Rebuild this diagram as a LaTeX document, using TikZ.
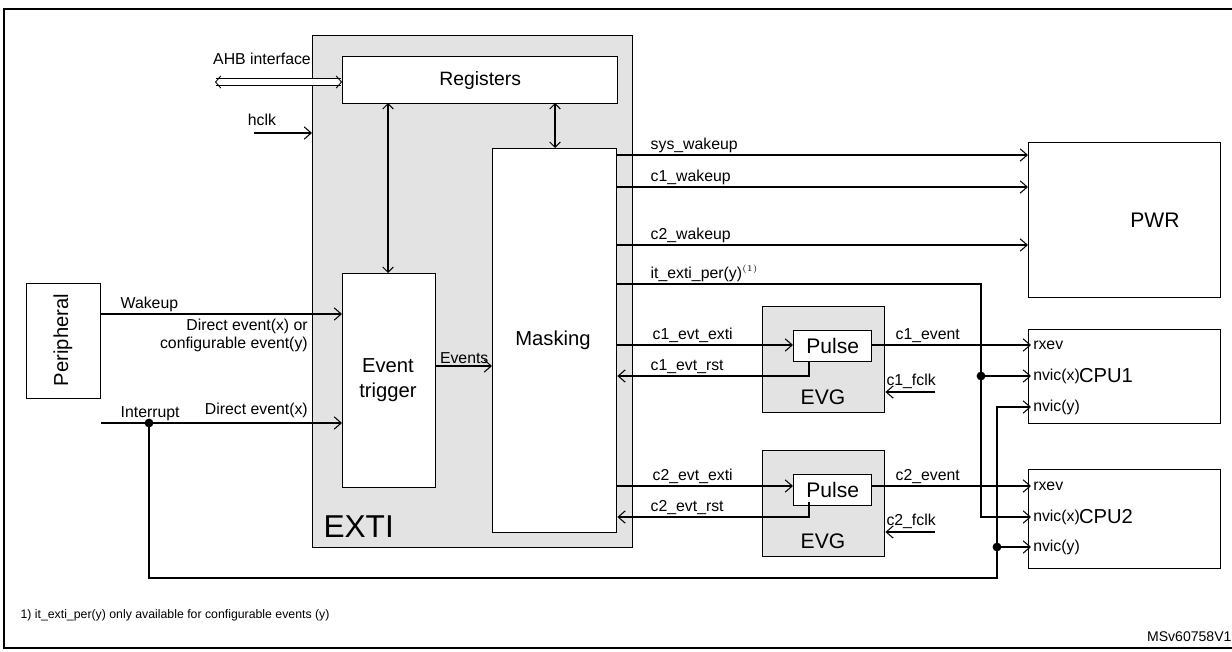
\documentclass[tikz,border=0pt]{standalone}
\usepackage{fontspec}
\setmainfont{Liberation Sans}
\usetikzlibrary{arrows.meta,positioning,calc}
\tikzset{
  blk/.style={draw, thick, fill=white},
  greyblk/.style={draw, thick, fill=gray!22},
  sig/.style={-{Straight Barb[length=4pt,width=7pt]}},
  lbl/.style={font=\fontsize{9}{10}\selectfont, inner sep=1pt},
  dot/.style={circle, fill, inner sep=0pt, minimum size=5pt},
}
\begin{document}
\begin{tikzpicture}[x=0.02cm,y=-0.02cm, line width=0.6pt]
    \useasboundingbox (0,0) rectangle (1232,652);
    %frame
    \draw[line width=1.5pt] (4,9) rectangle (1240,648);

    %nodes
    \node[greyblk, minimum width=320*0.02cm, minimum height=512*0.02cm, anchor=north west] (exti) at (312,35) {};
    \node[anchor=base west, inner sep=0pt, font=\fontsize{18}{19}\selectfont] (extilbl) at (323,537) {EXTI};
    \node[blk, minimum width=275*0.02cm, minimum height=47*0.02cm, anchor=north west, font=\fontsize{11}{12}\selectfont] (reg) at (342,56) {Registers};
    \node[blk, minimum width=124*0.02cm, minimum height=384*0.02cm, anchor=north west] (mask) at (492,148) {};
    \node[font=\fontsize{11.5}{12}\selectfont] (masklbl) at (553,340) {Masking};
    \node[blk, minimum width=93*0.02cm, minimum height=214*0.02cm, anchor=north west] (trig) at (342,273) {};
    \node[align=center, font=\fontsize{11.5}{14}\selectfont] (triglbl) at (388,380) {Event\\trigger};
    \node[blk, minimum width=74*0.02cm, minimum height=115*0.02cm, anchor=north west] (per) at (26,283) {};
    \node[rotate=90, font=\fontsize{11.5}{12}\selectfont] (perlbl) at (63,340) {Peripheral};
    \node[blk, minimum width=192*0.02cm, minimum height=155*0.02cm, anchor=north west] (pwr) at (1028,142) {};
    \node[font=\fontsize{12}{13}\selectfont] (pwrlbl) at (1155,220) {PWR};

    %EVG blocks
    \foreach \n/\y in {1/306, 2/450} {
      \node[greyblk, minimum width=122*0.02cm, minimum height=106*0.02cm, anchor=north west] (evg\n) at (762,\y) {};
      \node[font=\fontsize{12}{13}\selectfont] (evglbl\n) at (823,\y+91) {EVG};
      \node[blk, minimum width=78*0.02cm, minimum height=31*0.02cm, anchor=north west, font=\fontsize{12}{13}\selectfont] (pulse\n) at (793,\y+24) {Pulse};
    }
    \node[blk, minimum width=192*0.02cm, minimum height=94*0.02cm, anchor=north west] (cpu1) at (1028,329) {};
    \node[blk, minimum width=192*0.02cm, minimum height=99*0.02cm, anchor=north west] (cpu2) at (1028,469) {};
    \node[font=\fontsize{11.5}{12}\selectfont] (cpu1lbl) at (1106,376) {CPU1};
    \node[font=\fontsize{11.5}{12}\selectfont] (cpu2lbl) at (1106,517) {CPU2};
    \foreach \n/\a/\b/\c in {1/345/376/407, 2/486/517/547} {
      \node[lbl, anchor=west] (rx\n) at (1031,\a) {rxev};
      \node[lbl, anchor=west] (nx\n) at (1031,\b) {nvic(x)};
      \node[lbl, anchor=west] (ny\n) at (1031,\c) {nvic(y)};
    }

    %coordinates
    \coordinate (ahb) at (215,82);
    \coordinate (hclk) at (254,133);
    \coordinate (dot1) at (149,423);
    \coordinate (dot2) at (981,376);
    \coordinate (dot3) at (997,547);

    %edges
    \draw[{Straight Barb[length=3pt,width=7pt,open]}-{Straight Barb[length=3pt,width=7pt,open]}, double, double distance=3pt, line width=0.5pt] (ahb) -- (reg.west |- ahb);
    \node[lbl] (ahblbl) at (262,59) {AHB interface};
    \draw[sig] (hclk) -- (exti.west |- hclk);
    \node[lbl] (hclklbl) at (262,120) {hclk};
    \draw[<->, >={Straight Barb[length=3pt,width=6pt]}] (388,103) -- (388,273);
    \draw[<->, >={Straight Barb[length=3pt,width=6pt]}] (555,103) -- (555,148);

    \draw[sig] (per.east |- 0,314) -- node[lbl, at start, anchor=south west, xshift=17*0.02cm]{Wakeup} (trig.west |- 0,314);
    \node[lbl, anchor=north east, align=right] (wklbl) at (310,317) {Direct event(x) or\\configurable event(y)};
    \draw[sig] (per.east |- dot1) -- node[lbl, at start, anchor=south west, xshift=17*0.02cm]{Interrupt} (trig.west |- dot1);
    \node[lbl, anchor=south east] (irqlbl) at (310,420) {Direct event(x)};
    \node[dot] at (dot1) {};
    \draw (dot1) |- (997,578) -- (dot3);
    \draw[sig] (dot3) |- (ny1.west);
    \node[dot] at (dot3) {};
    \draw[sig] (dot3) -- (ny2.west);
    \draw[sig] (trig.east |- 0,366) -- node[lbl, above]{Events} (mask.west |- 0,366);

    \foreach \y/\t in {155/sys\_wakeup, 187/c1\_wakeup, 245/c2\_wakeup}
      \draw[sig] (mask.east |- 0,\y) -- node[lbl, at start, anchor=south west, xshift=31*0.02cm]{\t} (pwr.west |- 0,\y);
    \draw (mask.east |- 0,284) -- node[lbl, at start, anchor=south west, xshift=31*0.02cm]{it\_exti\_per(y)$^{\scriptscriptstyle(1)}$} (981,284) -- (dot2);
    \draw[sig] (dot2) |- (nx2.west);
    \node[dot] at (dot2) {};
    \draw[sig] (dot2) -- (nx1.west);

    \foreach \n/\a/\b/\c in {1/345/376/392, 2/486/517/532} {
      \draw[sig] (mask.east |- 0,\a) -- node[lbl, at start, anchor=south west, xshift=33*0.02cm]{c\n\_evt\_exti} (pulse\n.west |- 0,\a);
      \draw[sig] (809,\a+16) |- (mask.east |- 0,\b) node[lbl, anchor=south west, xshift=31*0.02cm]{c\n\_evt\_rst};
      \draw[sig] (pulse\n.east |- 0,\a) -- node[lbl, at start, anchor=south west, xshift=21*0.02cm]{c\n\_event} (rx\n.west);
      \coordinate (fclk\n) at (935,\c);
      \draw[sig] (fclk\n) -- (evg\n.east |- fclk\n);
      \node[lbl, anchor=south east] (fclklbl\n) at (938,\c-1) {c\n\_fclk};
    }

    %notes
    \node[anchor=base west, inner sep=0pt, font=\fontsize{7}{8}\selectfont] (note) at (20,618) {1) it\_exti\_per(y) only available for configurable events (y)};
    \node[anchor=base east, inner sep=0pt, font=\fontsize{8}{9}\selectfont] (ref) at (1232,641) {MSv60758V1};
\end{tikzpicture}
\end{document}
